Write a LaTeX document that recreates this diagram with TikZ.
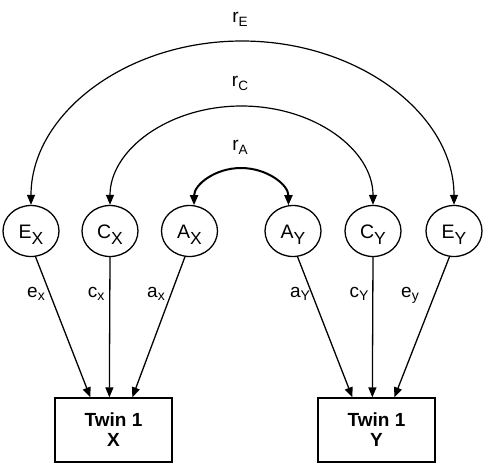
\documentclass[tikz,border=0pt]{standalone}
\usepackage{fontspec}
\setmainfont{Liberation Sans}
\usetikzlibrary{arrows.meta,shapes.geometric,calc}
\newcommand{\latlab}[2]{{\fontsize{19.5}{19.5}\selectfont #1}\raisebox{-6pt}{\fontsize{17.5}{17.5}\selectfont #2}}
\newcommand{\pathlab}[2]{{\fontsize{19}{19}\selectfont #1}\raisebox{-3pt}{\fontsize{14}{14}\selectfont #2}}
\newcommand{\corlab}[2]{{\fontsize{19}{19}\selectfont #1}\raisebox{-4pt}{\fontsize{13.5}{13.5}\selectfont #2}}
\tikzset{
  latent/.style={ellipse, draw, line width=1.3pt, minimum width=56pt, minimum height=51pt, inner sep=0pt, text height=14pt, text depth=0pt},
  obs/.style={rectangle, draw, line width=1.3pt, minimum width=117pt, minimum height=64pt, inner sep=0pt, align=center, font=\fontsize{19}{20}\selectfont\bfseries},
  pathar/.style={draw, line width=1.3pt, -{Triangle[length=10pt,width=8pt]}},
  corr/.style={draw, line width=1.2pt, {Triangle[length=10pt,width=8pt]}-{Triangle[length=10pt,width=8pt]}},
  lab/.style={anchor=base, inner sep=0pt}
}
\begin{document}
\begin{tikzpicture}[x=1pt,y=-1pt]
\useasboundingbox (0,0) rectangle (486,464);
% latent variables
\node[latent] (EX) at (31,231) {\latlab{E}{X}};
\node[latent] (CX) at (110,231) {\latlab{C}{X}};
\node[latent] (AX) at (189.5,231) {\latlab{A}{X}};
\node[latent] (AY) at (293,231) {\latlab{A}{Y}};
\node[latent] (CY) at (373,231) {\latlab{C}{Y}};
\node[latent] (EY) at (454,231) {\latlab{E}{Y}};
% observed
\node[obs] (BX) at (113.5,430) {Twin 1\\X};
\node[obs] (BY) at (376.5,430) {Twin 1\\Y};
% target points on boxes
\coordinate (BXe) at ($(BX.north west)+(36,0)$);
\coordinate (BXc) at ($(BX.north west)+(55,0)$);
\coordinate (BXa) at ($(BX.north west)+(78,0)$);
\coordinate (BYa) at ($(BY.north west)+(35,0)$);
\coordinate (BYc) at ($(BY.north west)+(55,0)$);
\coordinate (BYe) at ($(BY.north west)+(77,0)$);
% paths
\draw[pathar] (EX.-80) -- (BXe);
\draw[pathar] (CX.south) -- (BXc);
\draw[pathar] (AX.-100) -- (BXa);
\draw[pathar] (AY.-80) -- (BYa);
\draw[pathar] (CY.south) -- (BYc);
\draw[pathar] (EY.-100) -- (BYe);
% path labels
\node[lab] (lex) at (36,297) {\pathlab{e}{x}};
\node[lab] (lcx) at (96,297) {\pathlab{c}{x}};
\node[lab] (lax) at (156,297) {\pathlab{a}{x}};
\node[lab] (lay) at (300,297) {\pathlab{a}{Y}};
\node[lab] (lcy) at (359,297) {\pathlab{c}{Y}};
\node[lab] (ley) at (410,297) {\pathlab{e}{y}};
% correlations
\coordinate (tE) at (242,41);
\coordinate (tC) at (241.5,106);
\coordinate (tA) at (241,168);
\draw[corr] (EX.north) .. controls +(0,-90.5) and +(-116.5,0) .. (tE) .. controls +(116.5,0) and +(0,-90.5) .. (EY.north);
\draw[corr] (CX.north) .. controls +(0,-55) and +(-73,0) .. (tC) .. controls +(73,0) and +(0,-55) .. (CY.north);
\draw[corr, line width=2pt] (AX.80) .. controls +(0,-20.5) and +(-26,0) .. (tA) .. controls +(26,0) and +(0,-20.5) .. (AY.100);
\node[lab] (lrE) at (240,22) {\corlab{r}{E}};
\node[lab] (lrC) at (240,86) {\corlab{r}{C}};
\node[lab] (lrA) at (240,150) {\corlab{r}{A}};
\end{tikzpicture}
\end{document}
